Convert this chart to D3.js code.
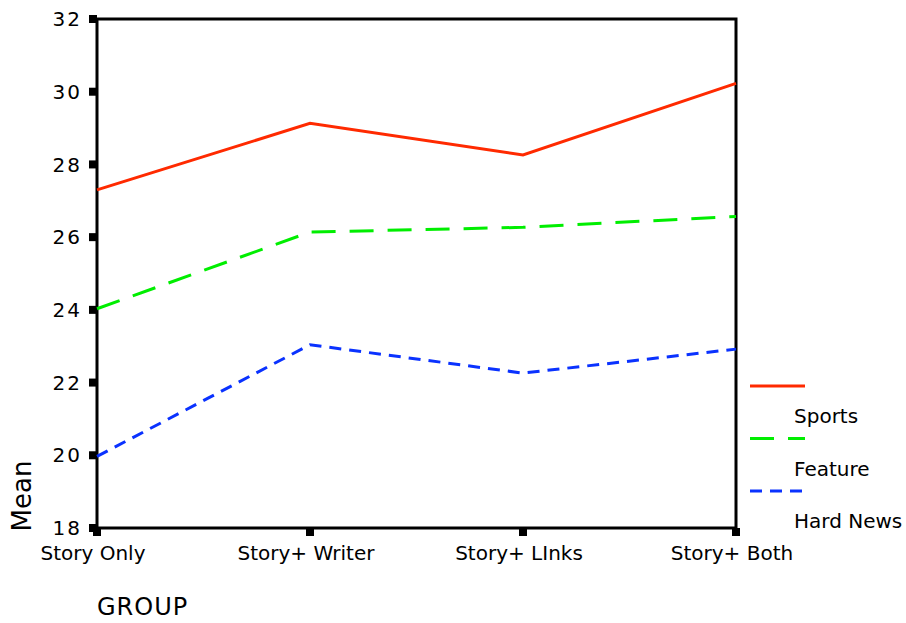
<!DOCTYPE html>
<html>
<head>
<meta charset="utf-8">
<script src="https://cdn.jsdelivr.net/npm/d3@7"></script>
<style>
  body { margin: 0; background: #fff; }
  text { font-family: "DejaVu Sans", sans-serif; fill: #000; }
</style>
</head>
<body>
<div id="chart"></div>
<script>
var groups = ["Story Only", "Story+ Writer", "Story+ LInks", "Story+ Both"];
var sports = [27.30, 29.13, 28.26, 30.23];
var feature = [24.03, 26.14, 26.27, 26.57];
var hardNews = [19.97, 23.04, 22.26, 22.92];
var seriesNames = ["Sports", "Feature", "Hard News"];
var yTicks = [18, 20, 22, 24, 26, 28, 30, 32];

var series = [
  {name: seriesNames[0], values: sports, color: "#ff2a00", dash: null},
  {name: seriesNames[1], values: feature, color: "#00ee00", dash: "24,14"},
  {name: seriesNames[2], values: hardNews, color: "#0a32ff", dash: "12,8"}
];

var margin = {top: 19, right: 170, bottom: 95, left: 97},
    width = 906 - margin.left - margin.right,
    height = 623 - margin.top - margin.bottom;

var svg = d3.select("#chart")
  .append("svg")
    .attr("width", 906)
    .attr("height", 623)
  .append("g")
    .attr("transform", "translate(" + margin.left + "," + margin.top + ")");

var x = d3.scalePoint()
  .domain(groups)
  .range([0, width])
  .padding(0);

var y = d3.scaleLinear()
  .domain([18, 32])
  .range([height, 0]);

// frame
svg.append("rect")
  .attr("width", width)
  .attr("height", height)
  .attr("fill", "none")
  .attr("stroke", "#000")
  .attr("stroke-width", 3);

// y ticks
svg.selectAll(".ytick")
  .data(yTicks)
  .enter()
  .append("rect")
    .attr("x", -8)
    .attr("y", d => y(d) - 4)
    .attr("width", 8)
    .attr("height", 8)
    .attr("fill", "#000");

svg.selectAll(".ylab")
  .data(yTicks)
  .enter()
  .append("text")
    .attr("x", -15)
    .attr("y", d => y(d))
    .attr("dy", "0.36em")
    .attr("text-anchor", "end")
    .style("font-size", "20px")
    .style("letter-spacing", "2px")
    .text(d => d);

// x ticks
svg.selectAll(".xtick")
  .data(groups)
  .enter()
  .append("rect")
    .attr("x", d => x(d) - 4)
    .attr("y", height)
    .attr("width", 8)
    .attr("height", 8)
    .attr("fill", "#000");

svg.selectAll(".xlab")
  .data(groups)
  .enter()
  .append("text")
    .attr("x", d => x(d) - 4)
    .attr("y", height + 32)
    .attr("text-anchor", "middle")
    .style("font-size", "20px")
    .text(d => d);

// axis titles
svg.append("text")
  .attr("transform", "translate(-66," + (height - 32) + ") rotate(-90)")
  .attr("text-anchor", "middle")
  .style("font-size", "26px")
  .text("Mean");

svg.append("text")
  .attr("x", 0)
  .attr("y", height + 87)
  .style("font-size", "24px")
  .style("letter-spacing", "1px")
  .text("GROUP");

// lines
var line = d3.line()
  .x((d, i) => x(groups[i]))
  .y(d => y(d));

svg.selectAll(".series")
  .data(series)
  .enter()
  .append("path")
    .attr("d", d => line(d.values))
    .attr("fill", "none")
    .attr("stroke", d => d.color)
    .attr("stroke-width", 3)
    .attr("stroke-dasharray", d => d.dash);

// legend
var legend = svg.selectAll(".legend")
  .data(series)
  .enter()
  .append("g")
    .attr("transform", (d, i) => "translate(" + (width + 14) + "," + (367 + i * 52.5) + ")");

legend.append("line")
  .attr("x1", 0)
  .attr("x2", 55)
  .attr("stroke", d => d.color)
  .attr("stroke-width", 3)
  .attr("stroke-dasharray", d => d.dash);

legend.append("text")
  .attr("x", 44)
  .attr("y", 37)
  .style("font-size", "20px")
  .text(d => d.name);
</script>
</body>
</html>
